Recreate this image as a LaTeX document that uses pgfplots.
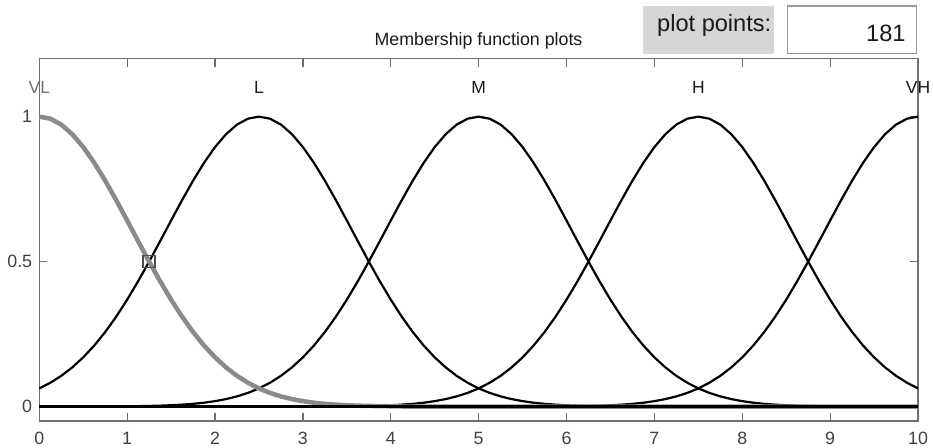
\documentclass[border=0pt]{standalone}
\usepackage{pgfplots}
\pgfplotsset{compat=1.18}
\usepackage{pgfplotstable}
\usepackage{fontspec}
\setmainfont{Liberation Sans}
\definecolor{axgray}{HTML}{707070}
\definecolor{vlgray}{HTML}{8A8A8A}
\definecolor{lblgray}{HTML}{404040}
\definecolor{boxgray}{HTML}{D6D6D6}
\pgfplotstableread{
x VL L M H VH
0.000 1.0000 0.0625 0 0 0
0.125 0.9931 0.0819 0 0 0
0.250 0.9727 0.1058 0 0 0
0.375 0.9395 0.1349 0 0 0
0.500 0.8950 0.1696 0 0 0
0.625 0.8409 0.2102 0 0 0
0.750 0.7792 0.2570 0 0 0
0.875 0.7120 0.3099 0 0 0
1.000 0.6417 0.3686 0.0008 0 0
1.125 0.5704 0.4323 0.0013 0 0
1.250 0.5000 0.5000 0.0020 0 0
1.375 0.4323 0.5704 0.0029 0 0
1.500 0.3686 0.6417 0.0044 0 0
1.625 0.3099 0.7120 0.0064 0 0
1.750 0.2570 0.7792 0.0092 0 0
1.875 0.2102 0.8409 0.0131 0 0
2.000 0.1696 0.8950 0.0185 0 0
2.125 0.1349 0.9395 0.0256 0 0
2.250 0.1058 0.9727 0.0349 0 0
2.375 0.0819 0.9931 0.0470 0 0
2.500 0.0625 1.0000 0.0625 0 0
2.625 0.0470 0.9931 0.0819 0 0
2.750 0.0349 0.9727 0.1058 0 0
2.875 0.0256 0.9395 0.1349 0 0
3.000 0.0185 0.8950 0.1696 0 0
3.125 0.0131 0.8409 0.2102 0 0
3.250 0.0092 0.7792 0.2570 0 0
3.375 0.0064 0.7120 0.3099 0 0
3.500 0.0044 0.6417 0.3686 0.0008 0
3.625 0.0029 0.5704 0.4323 0.0013 0
3.750 0.0020 0.5000 0.5000 0.0020 0
3.875 0.0013 0.4323 0.5704 0.0029 0
4.000 0.0008 0.3686 0.6417 0.0044 0
4.125 0 0.3099 0.7120 0.0064 0
4.250 0 0.2570 0.7792 0.0092 0
4.375 0 0.2102 0.8409 0.0131 0
4.500 0 0.1696 0.8950 0.0185 0
4.625 0 0.1349 0.9395 0.0256 0
4.750 0 0.1058 0.9727 0.0349 0
4.875 0 0.0819 0.9931 0.0470 0
5.000 0 0.0625 1.0000 0.0625 0
5.125 0 0.0470 0.9931 0.0819 0
5.250 0 0.0349 0.9727 0.1058 0
5.375 0 0.0256 0.9395 0.1349 0
5.500 0 0.0185 0.8950 0.1696 0
5.625 0 0.0131 0.8409 0.2102 0
5.750 0 0.0092 0.7792 0.2570 0
5.875 0 0.0064 0.7120 0.3099 0
6.000 0 0.0044 0.6417 0.3686 0.0008
6.125 0 0.0029 0.5704 0.4323 0.0013
6.250 0 0.0020 0.5000 0.5000 0.0020
6.375 0 0.0013 0.4323 0.5704 0.0029
6.500 0 0.0008 0.3686 0.6417 0.0044
6.625 0 0 0.3099 0.7120 0.0064
6.750 0 0 0.2570 0.7792 0.0092
6.875 0 0 0.2102 0.8409 0.0131
7.000 0 0 0.1696 0.8950 0.0185
7.125 0 0 0.1349 0.9395 0.0256
7.250 0 0 0.1058 0.9727 0.0349
7.375 0 0 0.0819 0.9931 0.0470
7.500 0 0 0.0625 1.0000 0.0625
7.625 0 0 0.0470 0.9931 0.0819
7.750 0 0 0.0349 0.9727 0.1058
7.875 0 0 0.0256 0.9395 0.1349
8.000 0 0 0.0185 0.8950 0.1696
8.125 0 0 0.0131 0.8409 0.2102
8.250 0 0 0.0092 0.7792 0.2570
8.375 0 0 0.0064 0.7120 0.3099
8.500 0 0 0.0044 0.6417 0.3686
8.625 0 0 0.0029 0.5704 0.4323
8.750 0 0 0.0020 0.5000 0.5000
8.875 0 0 0.0013 0.4323 0.5704
9.000 0 0 0.0008 0.3686 0.6417
9.125 0 0 0 0.3099 0.7120
9.250 0 0 0 0.2570 0.7792
9.375 0 0 0 0.2102 0.8409
9.500 0 0 0 0.1696 0.8950
9.625 0 0 0 0.1349 0.9395
9.750 0 0 0 0.1058 0.9727
9.875 0 0 0 0.0819 0.9931
10.000 0 0 0 0.0625 1.0000
}\mftable
\begin{document}
\begin{tikzpicture}[x=1pt,y=1pt]
\useasboundingbox (0,0) rectangle (933,447);
% control panel
\filldraw[fill=boxgray,draw=boxgray] (642.7,393.7) rectangle (773.3,441);
\node[anchor=base east,inner sep=0pt,text=black!90] at (771.5,415.3) {\fontsize{23.6}{26}\selectfont plot points:};
\filldraw[fill=white,draw=black!40,line width=1.5pt] (787.3,393.7) rectangle (916.7,441);
\node[anchor=base east,inner sep=0pt,text=black!90] at (905.7,405.3) {\fontsize{23.6}{26}\selectfont 181};
% title
\node[anchor=base,inner sep=0pt,text=black!90] at (478.5,401) {\fontsize{17.8}{20}\selectfont Membership function plots};
\begin{axis}[
  at={(39.3pt,26pt)}, anchor=south west,
  scale only axis, width=878.7pt, height=362.3pt,
  xmin=0, xmax=10, ymin=-0.05, ymax=1.2,
  xtick={0,1,...,10}, ytick={0,0.5,1},
  yticklabels={0,0.5,1},
  tick align=inside, major tick length=8pt,
  axis line style={draw=axgray,line width=1.3pt},
  every tick/.style={draw=axgray,line width=1.2pt},
  ticklabel style={font=\fontsize{17.8}{20}\selectfont,text=lblgray,inner sep=0pt},
  xticklabel style={yshift=-10.7pt},
  yticklabel style={xshift=-7pt},
  /pgf/number format/assume math mode=true,
  clip=false,
]
\addplot[black,line width=2.2pt] table[x=x,y=L] {\mftable};
\addplot[black,line width=2.2pt] table[x=x,y=M] {\mftable};
\addplot[black,line width=2.2pt] table[x=x,y=H] {\mftable};
\addplot[black,line width=2.2pt] table[x=x,y=VH] {\mftable};
\addplot[vlgray,line width=4.5pt] table[x=x,y=VL] {\mftable};
\addplot[black,line width=3.6pt] coordinates {(0,0) (10,0)};
\addplot[only marks,mark=square,mark size=6pt,mark options={draw=black!70,line width=1.3pt}] coordinates {(1.25,0.5)};
\node[font=\fontsize{17.5}{20}\selectfont,text=black!55] at (axis cs:0,1.1) {VL};
\node[font=\fontsize{17.5}{20}\selectfont,text=black!90] at (axis cs:2.5,1.1) {L};
\node[font=\fontsize{17.5}{20}\selectfont,text=black!90] at (axis cs:5,1.1) {M};
\node[font=\fontsize{17.5}{20}\selectfont,text=black!90] at (axis cs:7.5,1.1) {H};
\node[font=\fontsize{17.5}{20}\selectfont,text=black!90] at (axis cs:10,1.1) {VH};
\end{axis}
\end{tikzpicture}
\end{document}
